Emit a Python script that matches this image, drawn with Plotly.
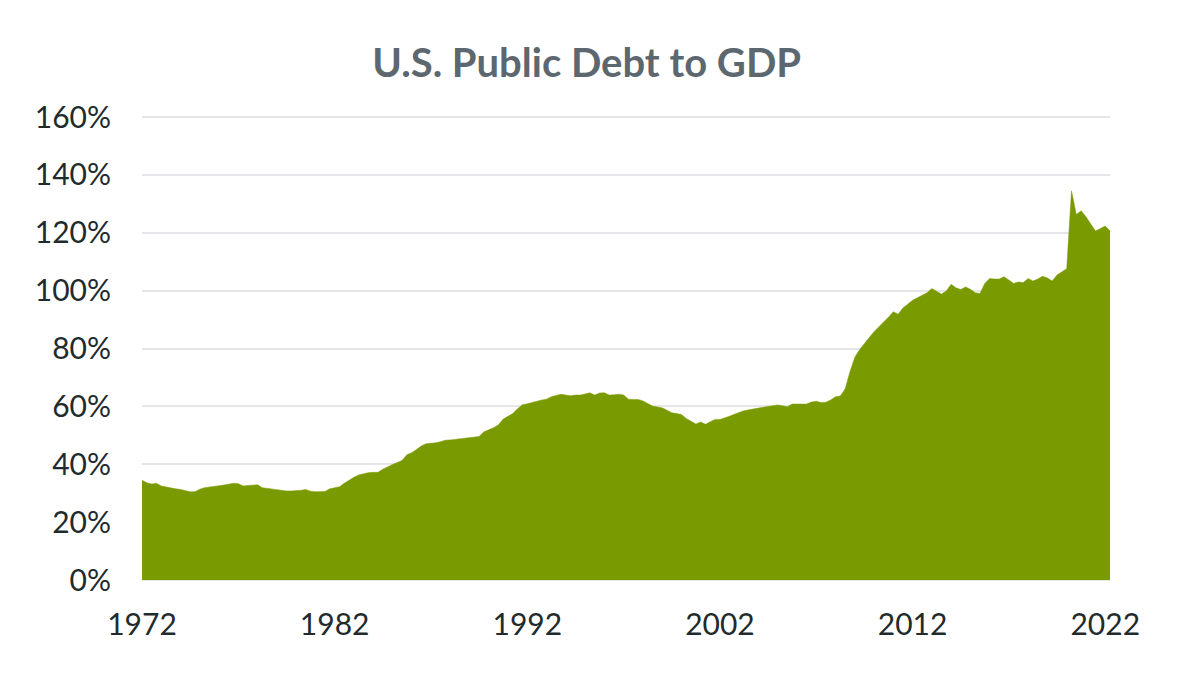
import pandas as pd
import plotly.graph_objects as go

# Total public debt as % of GDP, quarterly, 1972 Q1 - 2022 Q2
debt_pct = [
    34.5, 33.6, 33.2, 33.4,   # 1972
    32.5, 32.1, 31.7, 31.5,   # 1973
    31.3, 30.8, 30.5, 30.5,   # 1974
    31.4, 31.9, 32.2, 32.4,   # 1975
    32.6, 32.8, 33.2, 33.4,   # 1976
    33.3, 32.5, 32.7, 32.8,   # 1977
    32.9, 31.9, 31.7, 31.4,   # 1978
    31.1, 30.9, 30.8, 30.8,   # 1979
    30.8, 31.0, 31.3, 30.7,   # 1980
    30.5, 30.5, 30.6, 31.5,   # 1981
    31.8, 32.2, 33.4, 34.6,   # 1982
    35.5, 36.3, 36.8, 37.1,   # 1983
    37.2, 37.2, 38.3, 39.2,   # 1984
    39.9, 40.6, 41.3, 43.3,   # 1985
    44.0, 45.1, 46.3, 47.1,   # 1986
    47.2, 47.4, 47.8, 48.3,   # 1987
    48.4, 48.6, 48.7, 49.0,   # 1988
    49.2, 49.4, 49.6, 51.2,   # 1989
    51.9, 52.6, 53.6, 55.6,   # 1990
    56.6, 57.5, 59.2, 60.6,   # 1991
    60.9, 61.4, 61.7, 62.2,   # 1992
    62.5, 63.3, 63.8, 64.2,   # 1993
    63.9, 63.7, 63.9, 63.9,   # 1994
    64.3, 64.7, 63.9, 64.6,   # 1995
    64.7, 63.9, 64.0, 64.2,   # 1996
    63.9, 62.5, 62.4, 62.4,   # 1997
    61.9, 61.0, 60.1, 59.8,   # 1998
    59.5, 58.7, 57.8, 57.5,   # 1999
    57.2, 55.8, 54.7, 53.9,   # 2000
    54.6, 53.8, 54.7, 55.5,   # 2001
    55.5, 56.0, 56.6, 57.3,   # 2002
    57.9, 58.5, 58.8, 59.2,   # 2003
    59.4, 59.7, 60.0, 60.4,   # 2004
    60.5, 60.2, 59.9, 60.8,   # 2005
    60.8, 60.8, 60.8, 61.5,   # 2006
    61.8, 61.3, 61.4, 62.2,   # 2007
    63.3, 63.6, 66.0, 72.0,   # 2008
    77.0, 79.6, 81.5, 83.8,   # 2009
    85.8, 87.6, 89.2, 90.8,   # 2010
    92.7, 91.8, 94.0, 95.3,   # 2011
    96.7, 97.5, 98.4, 99.3,   # 2012
    100.7, 99.8, 98.8, 99.9,  # 2013
    102.2, 101.0, 100.4, 101.3,  # 2014
    100.5, 99.3, 99.0, 102.5,    # 2015
    104.2, 104.0, 104.0, 104.8,  # 2016
    103.6, 102.5, 103.0, 102.8,  # 2017
    104.2, 103.3, 104.0, 105.0,  # 2018
    104.4, 103.3, 105.4, 106.5,  # 2019
    107.6, 134.5, 126.3, 127.6,  # 2020
    125.5, 123.0, 120.6, 121.5,  # 2021
    122.3, 120.7,                # 2022
]
quarters = pd.date_range("1972-01-01", periods=len(debt_pct), freq="QS")

tick_years = ["1972", "1982", "1992", "2002", "2012", "2022"]
y_ticks = [0, 20, 40, 60, 80, 100, 120, 140, 160]

fig = go.Figure()
fig.add_trace(go.Scatter(x=quarters, y=debt_pct,
                         mode="lines",
                         fill="tozeroy",
                         fillcolor="#7a9a01",
                         line=dict(color="#7a9a01", width=0.5),
                         hoverinfo="x+y"))

# page body has an 8px margin, so the figure is a bit smaller than the window
fig.update_layout(
    width=1169, height=670,
    paper_bgcolor="white", plot_bgcolor="white",
    margin=dict(l=134, r=67, t=107, b=98),
    showlegend=False,
    title=dict(text="<b>U.S. Public Debt to GDP</b>",
               x=0.495, xref="container", xanchor="center",
               y=0.918, yref="container", yanchor="middle",
               font=dict(family="Lato", size=40, color="#5d6770")),
    font=dict(family="Lato", color="#1f2b2d"),
)

fig.update_xaxes(range=[quarters[0], quarters[-1]],
                 tickvals=[pd.Timestamp(y + "-01-01") for y in tick_years],
                 ticktext=tick_years, automargin=False,
                 showgrid=False, zeroline=False, showline=False,
                 ticks="", ticklabelstandoff=24,
                 tickfont=dict(family="Lato", size=30, color="#1f2b2d"))

# a little headroom above 160 so its gridline is drawn
fig.update_yaxes(range=[0, 160.7], tickvals=y_ticks,
                 ticktext=[str(v) + "%" for v in y_ticks], automargin=False,
                 showgrid=True, gridcolor="#e6e6ea", gridwidth=2,
                 zeroline=True, zerolinecolor="#e6e6ea", zerolinewidth=2,
                 showline=False, ticks="", ticklabelstandoff=30,
                 tickfont=dict(family="Lato", size=30, color="#1f2b2d"))

fig.write_html("out.html")
